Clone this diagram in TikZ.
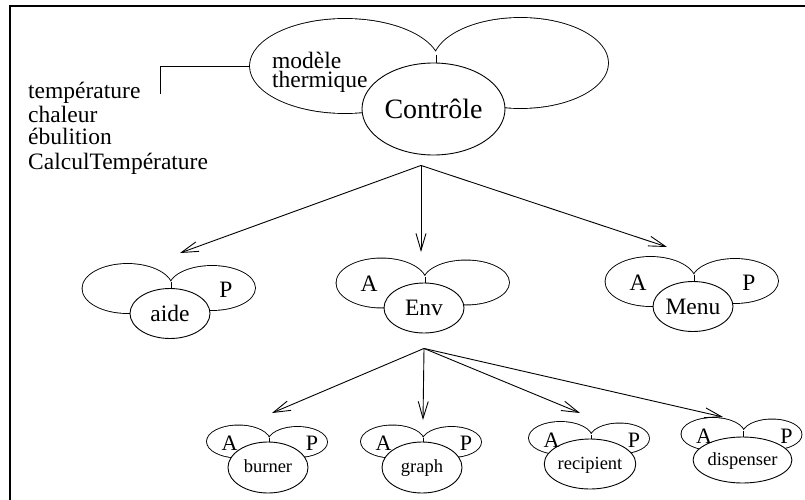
\documentclass[tikz,border=0pt]{standalone}
\usepackage{fontspec}
\setmainfont{Liberation Serif}
\usetikzlibrary{shapes.geometric, arrows.meta, calc}
\tikzset{%
  frame/.style = {line width=2.5pt},
  lobe/.style  = {draw, line width=1.8pt},
  core/.style  = {ellipse, draw, fill=white, line width=0.9pt, inner sep=0pt},
  tick/.style  = {line width=0.9pt},
  call/.style  = {-{Straight Barb[length=17pt, width=10pt]}, line width=0.9pt},
  big/.style   = {inner sep=0pt, font=\fontsize{23.5}{26}\selectfont},
  huge/.style  = {font=\fontsize{28}{32}\selectfont},
  small/.style = {inner sep=0pt, text height=1em, text depth=0pt, font=\fontsize{18.5}{20}\selectfont},
  tag/.style   = {inner sep=0pt, font=\fontsize{22}{24}\selectfont}
  }

\begin{document}
\begin{tikzpicture}[x=1pt, y=-1pt]
    \useasboundingbox (0,0) rectangle (805,500);
    \draw[frame] (10,500) -- (10,6) -- (805,6);

    % top module: two lobes and the control core
    \path[lobe] (345,66) ellipse (95 and 47) (520.5,63) ellipse (87.5 and 45);
    \fill[white] (345,66) ellipse (95 and 47) (520.5,63) ellipse (87.5 and 45);
    \draw[tick] (436,55) -- (436,64);
    \node (ctrl) [core, huge, minimum width=143pt, minimum height=92pt] at (433.5,109) {Contrôle};
    \node (model)   [big, anchor=base west] at (272,69) {modèle};
    \node (thermal) [big, anchor=base west] at (272,88) {thermique};

    \foreach \n/\y/\t in {v1/99/température, v2/122/chaleur, v3/144/ébulition, v4/169/CalculTempérature}
      \node (\n) [big, anchor=base west] at (28,\y) {\t};
    \coordinate (thermo) at (250,66);
    \coordinate (hook) at (160,94);
    \draw[tick] (thermo) -| (hook);

    % middle row
    \foreach \n/\x/\y/\lab/\a/\p in {aide/170/313.5/aide//P, env/424/308/Env/A/, menu/693/306.5/Menu/A/P}{
      \path[lobe] (\x-42.5,\y-25) ellipse (45 and 24.5) (\x+42,\y-25.5) ellipse (43 and 22);
      \fill[white] (\x-42.5,\y-25) ellipse (45 and 24.5) (\x+42,\y-25.5) ellipse (43 and 22);
      \draw[tick] (\x+1.5,\y-31.5) -- (\x+1.5,\y-24);
      \node (\n) [core, big, minimum width=80pt, minimum height=50pt] at (\x,\y) {\lab};
      \node (\n-a) [big] at (\x-55,\y-24) {\a};
      \node (\n-p) [big] at (\x+56,\y-24) {\p};
    }

    % bottom row
    \foreach \n/\x/\y/\h/\lab in {burner/268/467.5/51/burner, graph/422/467.5/51/graph,
                                 recip/590/464/50/recipient, disp/742.5/460/46/dispenser}{
      \path[lobe] (\x-29.5,\y-26) ellipse (31.5 and 16) (\x+29.5,\y-25.5) ellipse (29.5 and 15);
      \fill[white] (\x-29.5,\y-26) ellipse (31.5 and 16) (\x+29.5,\y-25.5) ellipse (29.5 and 15);
      \draw[tick] (\x+1,\y-29.5) -- (\x+1,\y-\h/2+1);
      \node (\n) [core, small, minimum width=80pt, minimum height=\h pt] at (\x,\y) {\lab};
      \node (\n-a) [tag] at (\x-38.5,\y-24) {A};
      \node (\n-p) [tag] at (\x+44,\y-24) {P};
    }

    \coordinate (ctrl-fan) at ($(ctrl.south)+(-12.5,10)$);
    \coordinate (env-fan)  at ($(env.south)+(0,15)$);

    \draw[call] (ctrl-fan) -- ($(aide)+(10,-60.5)$);
    \draw[call] (ctrl-fan) -- ($(env)+(-3,-56)$);
    \draw[call] (ctrl-fan) -- ($(menu)+(-26,-59.5)$);

    \draw[call] (env-fan) -- ($(burner)+(4,-54.5)$);
    \draw[call] (env-fan) -- ($(graph)+(1,-47.5)$);
    \draw[call] (env-fan) -- ($(recip)+(-10,-51)$);
    \draw[call] (env-fan) -- ($(disp)+(-19.5,-43)$);
\end{tikzpicture}
\end{document}
